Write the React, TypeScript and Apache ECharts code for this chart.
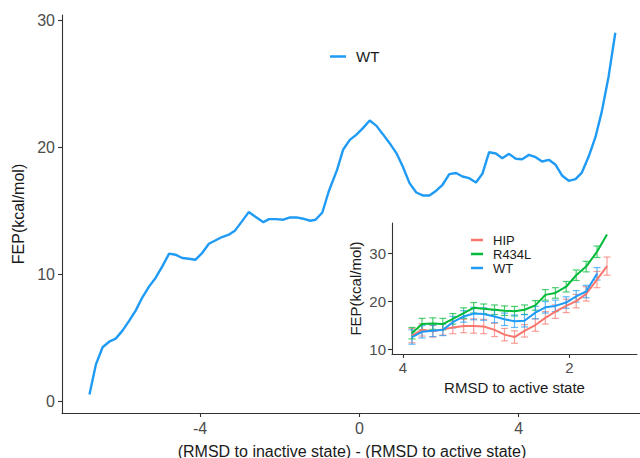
import React, { useEffect, useRef } from 'react';
import * as echarts from 'echarts';

// Main panel: FEP along (RMSD to inactive) - (RMSD to active)
const mainX = [
  -6.78, -6.62, -6.45, -6.27, -6.12, -5.95, -5.78, -5.62, -5.45, -5.28,
  -5.12, -4.95, -4.78, -4.62, -4.45, -4.28, -4.12, -3.95, -3.78, -3.62,
  -3.45, -3.28, -3.12, -2.95, -2.78, -2.62, -2.41, -2.27, -2.10, -1.91,
  -1.74, -1.58, -1.41, -1.24, -1.10, -0.93, -0.77, -0.56, -0.41, -0.24,
  -0.08, 0.09, 0.26, 0.43, 0.59, 0.76, 0.93, 1.09, 1.26, 1.43,
  1.59, 1.76, 1.93, 2.09, 2.26, 2.43, 2.59, 2.76, 2.93, 3.09,
  3.26, 3.43, 3.59, 3.76, 3.93, 4.09, 4.26, 4.43, 4.59, 4.76,
  4.93, 5.09, 5.26, 5.43, 5.59, 5.76, 5.93, 6.09, 6.26, 6.43,
];
const mainWT = [
  0.55, 2.9, 4.27, 4.74, 4.95, 5.58, 6.36, 7.15, 8.2, 9.06,
  9.72, 10.63, 11.63, 11.55, 11.29, 11.23, 11.15, 11.68, 12.41, 12.67,
  12.94, 13.12, 13.46, 14.17, 14.9, 14.56, 14.11, 14.35, 14.35, 14.3,
  14.48, 14.48, 14.38, 14.22, 14.3, 14.87, 16.52, 18.22, 19.8, 20.58,
  20.97, 21.5, 22.1, 21.68, 21.03, 20.32, 19.54, 18.48, 17.18, 16.44,
  16.21, 16.21, 16.58, 17.05, 17.89, 17.97, 17.7, 17.57, 17.23, 17.91,
  19.61, 19.51, 19.14, 19.48, 19.09, 19.06, 19.4, 19.22, 18.88, 19.01,
  18.62, 17.78, 17.36, 17.49, 18.01, 19.27, 20.79, 22.8, 25.55, 29.0,
];
const mainXTicks = [-4, 0, 4];
const mainYTicks = [0, 10, 20, 30];

// Inset: FEP along RMSD to active state
const insetX = [
  3.89, 3.77, 3.64, 3.52, 3.40, 3.27, 3.15, 3.03, 2.90, 2.78,
  2.66, 2.54, 2.41, 2.29, 2.17, 2.04, 1.92, 1.80, 1.67, 1.55,
];
const hipY = [
  12.8, 14.0, 13.7, 14.1, 14.5, 14.8, 14.8, 14.7, 14.0, 13.0,
  12.5, 13.8, 15.0, 16.5, 17.8, 19.0, 20.0, 21.5, 24.5, 27.3,
];
const hipErr = [
  1.5, 1.3, 1.2, 1.2, 1.3, 1.4, 1.5, 1.5, 1.4, 1.3,
  1.3, 1.3, 1.3, 1.3, 1.4, 1.4, 1.4, 1.5, 1.7, 1.9,
];
const r434lY = [
  13.3, 15.2, 15.3, 15.2, 16.3, 17.5, 18.6, 18.4, 18.2, 18.0,
  17.9, 18.2, 19.1, 21.3, 21.7, 23.0, 25.4, 27.2, 30.3, 33.9,
];
const r434lErr = [
  1.2, 1.2, 1.2, 1.2, 1.1, 1.1, 1.1, 1.0, 1.0, 1.0,
  1.0, 1.0, 1.0, 1.1, 1.1, 1.1, 1.1, 1.1, 1.2, 0,
];
const wtY = [
  12.5, 13.6, 13.8, 14.0, 15.6, 16.8, 17.4, 17.3, 16.8, 16.2,
  15.8, 15.9, 17.6, 18.7, 19.0, 19.7, 21.0, 22.0, 25.7,
];
const wtErr = [
  1.5, 1.3, 1.2, 1.2, 1.2, 1.2, 1.3, 1.3, 1.3, 1.3,
  1.3, 1.3, 1.3, 1.2, 1.2, 1.2, 1.2, 1.3, 1.3,
];
const insetXTicks = [2, 4];
const insetYTicks = [10, 20, 30];

const FONT = "'Liberation Sans', Arial, sans-serif";
const BLUE = '#1F9BF5';
const RED = '#F8766D';
const GREEN = '#00BA38';

function lineSeries(name: string, xs: number[], ys: number[], color: string, idx: number, width: number) {
  return {
    type: 'line',
    name,
    xAxisIndex: idx,
    yAxisIndex: idx,
    data: ys.map((y, i) => [xs[i], y]),
    showSymbol: false,
    symbol: 'none',
    lineStyle: { color, width },
    itemStyle: { color },
    z: 5,
  };
}

function errorSeries(name: string, xs: number[], ys: number[], errs: number[], color: string) {
  return {
    type: 'custom',
    name,
    xAxisIndex: 1,
    yAxisIndex: 1,
    silent: true,
    z: 4,
    data: ys.map((y, i) => [xs[i], y - errs[i], y + errs[i]]),
    renderItem: (_p: any, api: any) => {
      const x = api.value(0);
      const lo = api.coord([x, api.value(1)]);
      const hi = api.coord([x, api.value(2)]);
      if (Math.abs(hi[1] - lo[1]) < 0.5) return { type: 'group', children: [] };
      const w = 3.5;
      const st = { stroke: color, lineWidth: 1.2, opacity: 0.7 };
      return {
        type: 'group',
        children: [
          { type: 'line', shape: { x1: lo[0], y1: lo[1], x2: hi[0], y2: hi[1] }, style: st },
          { type: 'line', shape: { x1: lo[0] - w, y1: lo[1], x2: lo[0] + w, y2: lo[1] }, style: st },
          { type: 'line', shape: { x1: hi[0] - w, y1: hi[1], x2: hi[0] + w, y2: hi[1] }, style: st },
        ],
      };
    },
  };
}

export default function App() {
  const ref = useRef<HTMLDivElement>(null);
  useEffect(() => {
    if (!ref.current) return;
    const chart = echarts.init(ref.current, undefined, { renderer: 'svg' });
    const axisLine = { show: true, onZero: false, lineStyle: { color: '#333333', width: 1.1 } };
    const tickLine = { lineStyle: { color: '#333333', width: 1.1 } };
    const option: any = {
      animation: false,
      backgroundColor: '#ffffff',
      textStyle: { fontFamily: FONT },
      legend: [
        {
          data: ['WT'],
          left: 330,
          top: 49,
          padding: 0,
          icon: 'rect',
          itemWidth: 16,
          itemHeight: 2.5,
          textStyle: { fontSize: 15, color: '#1a1a1a', fontFamily: FONT, padding: [0, 0, 0, 5] },
          selectedMode: false,
        },
        {
          data: ['HIP', 'R434L', 'WT'],
          orient: 'vertical',
          left: 471,
          top: 233,
          padding: 0,
          icon: 'rect',
          itemWidth: 12,
          itemHeight: 2.5,
          itemGap: 0,
          textStyle: { fontSize: 13, lineHeight: 14, color: '#1a1a1a', fontFamily: FONT, padding: [0, 0, 0, 5] },
          selectedMode: false,
        },
      ],
      grid: [
        { left: 62, top: 15, width: 580, height: 398, containLabel: false, outerBoundsMode: 'none' },
        { left: 392, top: 223, width: 245, height: 131, containLabel: false, outerBoundsMode: 'none' },
      ],
      xAxis: [
        {
          type: 'value',
          gridIndex: 0,
          min: -7.47,
          max: 7.1,
          name: '(RMSD to inactive state) - (RMSD to active state)',
          nameLocation: 'middle',
          nameGap: 30,
          nameTextStyle: { fontSize: 16, color: '#1a1a1a', fontFamily: FONT },
          axisLine,
          axisTick: { show: true, length: 4, customValues: mainXTicks, ...tickLine },
          axisLabel: { customValues: mainXTicks, fontSize: 16, color: '#4d4d4d', margin: 7, fontFamily: FONT },
          splitLine: { show: false },
        },
        {
          type: 'value',
          gridIndex: 1,
          min: 1.19,
          max: 4.13,
          inverse: true,
          name: 'RMSD to active state',
          nameLocation: 'middle',
          nameGap: 26,
          nameTextStyle: { fontSize: 15, color: '#1a1a1a', fontFamily: FONT },
          axisLine,
          axisTick: { show: true, length: 4, customValues: insetXTicks, ...tickLine },
          axisLabel: { customValues: insetXTicks, fontSize: 15, color: '#4d4d4d', margin: 6, fontFamily: FONT },
          splitLine: { show: false },
        },
      ],
      yAxis: [
        {
          type: 'value',
          gridIndex: 0,
          min: -0.9,
          max: 30.4,
          name: 'FEP(kcal/mol)',
          nameLocation: 'middle',
          nameGap: 32,
          nameTextStyle: { fontSize: 16, color: '#1a1a1a', fontFamily: FONT },
          axisLine,
          axisTick: { show: true, length: 4, customValues: mainYTicks, ...tickLine },
          axisLabel: { customValues: mainYTicks, fontSize: 16, color: '#4d4d4d', margin: 7, fontFamily: FONT },
          splitLine: { show: false },
        },
        {
          type: 'value',
          gridIndex: 1,
          min: 8.96,
          max: 36.3,
          name: 'FEP(kcal/mol)',
          nameLocation: 'middle',
          nameGap: 29,
          nameTextStyle: { fontSize: 15, color: '#1a1a1a', fontFamily: FONT },
          axisLine,
          axisTick: { show: true, length: 4, customValues: insetYTicks, ...tickLine },
          axisLabel: { customValues: insetYTicks, fontSize: 15, color: '#4d4d4d', margin: 6, fontFamily: FONT },
          splitLine: { show: false },
        },
      ],
      series: [
        lineSeries('WT', mainX, mainWT, BLUE, 0, 2.4),
        errorSeries('HIP err', insetX, hipY, hipErr, RED),
        errorSeries('R434L err', insetX, r434lY, r434lErr, GREEN),
        errorSeries('WT err', insetX, wtY, wtErr, BLUE),
        lineSeries('HIP', insetX, hipY, RED, 1, 2),
        lineSeries('R434L', insetX, r434lY, GREEN, 1, 2),
        lineSeries('WT', insetX, wtY, BLUE, 1, 2),
      ],
    };
    chart.setOption(option);
    return () => chart.dispose();
  }, []);
  return (
    <div
      ref={ref}
      style={{ position: 'fixed', left: 0, top: 0, width: 640, height: 458, background: '#fff' }}
    />
  );
}
